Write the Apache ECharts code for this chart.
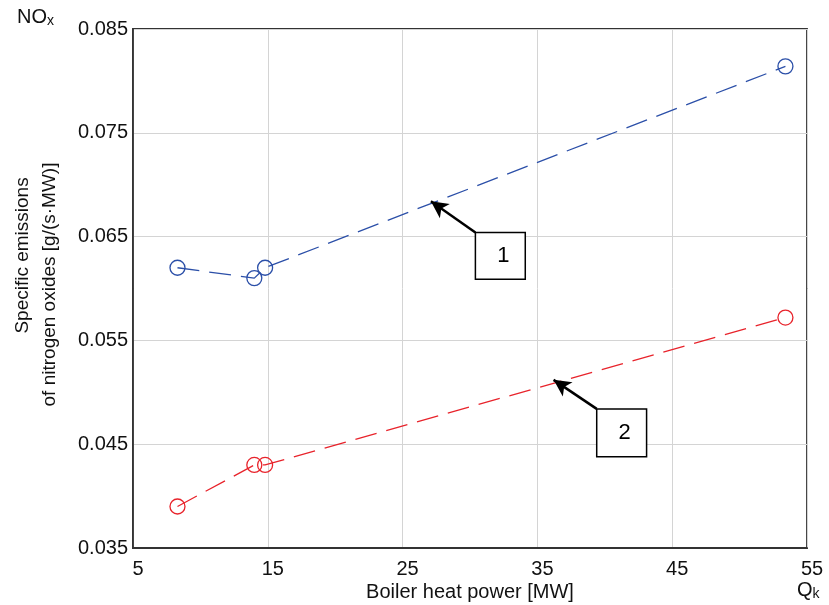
<!DOCTYPE html>
<html>
<head>
<meta charset="utf-8">
<script src="https://cdn.jsdelivr.net/npm/echarts@6/dist/echarts.min.js"></script>
<style>
  html, body { margin: 0; padding: 0; background: #fff; }
  #chart { width: 829px; height: 605px; }
</style>
</head>
<body>
<div id="chart"></div>
<script>
// data
var powerSeries1 = [8.3, 14.0, 14.8, 53.4]
var nox1 = [0.0620, 0.0610, 0.0620, 0.0814]
var powerSeries2 = [8.3, 14.0, 14.8, 53.4]
var nox2 = [0.0390, 0.0430, 0.0430, 0.0572]
var xTicks = [5, 15, 25, 35, 45, 55]
var yTicks = [0.035, 0.045, 0.055, 0.065, 0.075, 0.085]
var curveLabels = ['1', '2']

var BLUE = '#2b4fa8'
var RED = '#e8232b'
var FONT = 'Liberation Sans, Arial, sans-serif'

// callouts: [box x1, box y1, box x2, box y2, arrow tip x, arrow tip y] in data units
var callouts = [
  [30.4, 0.0654, 34.1, 0.0609, 27.1, 0.0684],
  [39.4, 0.0484, 43.1, 0.0438, 36.2, 0.0512]
]

function pairs(xs, ys) {
  return xs.map(function (x, i) { return [x, ys[i]] })
}

function calloutMarks(idx) {
  var c = callouts[idx]
  return {
    markLine: {
      silent: true,
      symbol: ['none', 'arrow'],
      symbolSize: [13, 17],
      lineStyle: { color: '#000', width: 2.5, type: 'solid' },
      label: { show: false },
      data: [[{ coord: [c[0], c[1]] }, { coord: [c[4], c[5]] }]]
    },
    markArea: {
      silent: true,
      itemStyle: { color: '#fff', borderColor: '#000', borderWidth: 1.5 },
      label: {
        show: true, position: 'inside', formatter: curveLabels[idx],
        color: '#000', fontSize: 22, fontFamily: FONT, offset: [3, 0]
      },
      data: [[{ coord: [c[0], c[1]] }, { coord: [c[2], c[3]] }]]
    }
  }
}

var chart = echarts.init(document.getElementById('chart'))

var series = [
  Object.assign({
    name: '1',
    type: 'line',
    data: pairs(powerSeries1, nox1),
    symbol: 'circle',
    symbolSize: 15,
    lineStyle: { color: BLUE, width: 1.3, type: [22, 10] },
    itemStyle: { color: 'rgba(0,0,0,0)', borderColor: BLUE, borderWidth: 1.3 },
    z: 3
  }, calloutMarks(0)),
  Object.assign({
    name: '2',
    type: 'line',
    data: pairs(powerSeries2, nox2),
    symbol: 'circle',
    symbolSize: 15,
    lineStyle: { color: RED, width: 1.3, type: [22, 10] },
    itemStyle: { color: 'rgba(0,0,0,0)', borderColor: RED, borderWidth: 1.3 },
    z: 3
  }, calloutMarks(1))
]

// first line of the y title sits higher than the second in the original
var yTitlePad = new Array(12).join('\u00a0')

var option = {
  animation: false,
  textStyle: { fontFamily: FONT },
  grid: {
    left: 133, right: 22, top: 29, bottom: 57,
    outerBoundsMode: 'none',
    containLabel: false,
    show: true, borderColor: '#333', borderWidth: 1.8
  },
  xAxis: {
    type: 'value',
    min: xTicks[0],
    max: xTicks[xTicks.length - 1],
    interval: xTicks[1] - xTicks[0],
    name: 'Boiler heat power [MW]',
    nameLocation: 'middle',
    nameGap: 34,
    nameMoveOverlap: false,
    nameTextStyle: { fontSize: 20, color: '#111', fontFamily: FONT },
    axisLine: { show: true, lineStyle: { color: '#333', width: 1.8 } },
    axisTick: { show: false },
    axisLabel: { fontSize: 20, color: '#111', margin: 11, padding: [0, 0, 0, 10], fontFamily: FONT },
    splitLine: { show: true, lineStyle: { color: '#d4d4d4', width: 1 } }
  },
  yAxis: {
    type: 'value',
    min: yTicks[0],
    max: yTicks[yTicks.length - 1],
    interval: 0.01,
    name: yTitlePad + 'Specific emissions\nof nitrogen oxides [g/(s·MW)]',
    nameLocation: 'middle',
    nameRotate: 90,
    nameGap: 70,
    nameMoveOverlap: false,
    nameTextStyle: { fontSize: 19, color: '#111', lineHeight: 27, fontFamily: FONT, padding: [0, 0, 0, 8] },
    axisLine: { show: true, lineStyle: { color: '#333', width: 1.8 } },
    axisTick: { show: false },
    axisLabel: {
      fontSize: 20, color: '#111', margin: 5, padding: [7, 0, 0, 0], fontFamily: FONT,
      formatter: function (v) { return v.toFixed(3) }
    },
    splitLine: { show: true, lineStyle: { color: '#d4d4d4', width: 1 } }
  },
  graphic: [
    {
      type: 'text', left: 17, top: 7,
      style: {
        text: '{a|NO}{b|x}',
        rich: {
          a: { fontSize: 20, fill: '#111', fontFamily: FONT },
          b: { fontSize: 14, fill: '#111', fontFamily: FONT, padding: [8, 0, 0, 0] }
        }
      }
    },
    {
      type: 'text', left: 797, top: 580,
      style: {
        text: '{a|Q}{b|k}',
        rich: {
          a: { fontSize: 20, fill: '#111', fontFamily: FONT },
          b: { fontSize: 14, fill: '#111', fontFamily: FONT, padding: [8, 0, 0, 0] }
        }
      }
    }
  ],
  series: series
}

chart.setOption(option)
</script>
</body>
</html>
